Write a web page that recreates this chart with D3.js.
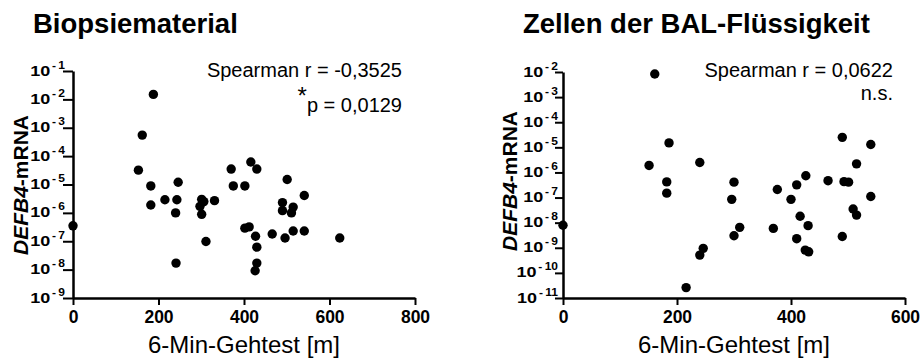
<!DOCTYPE html>
<html>
<head>
<meta charset="utf-8">
<script src="https://cdn.jsdelivr.net/npm/d3@7"></script>
<style>
    body { margin: 0; background: #fff; }
    svg { font-family: "Liberation Sans", Arial, sans-serif; }
</style>
</head>
<body>
<svg id="grafico" width="923" height="360"></svg>
<script>
//datos
var titulos = ["Biopsiematerial", "Zellen der BAL-Flüssigkeit"];
var textoEjeX = "6-Min-Gehtest [m]";

//panel izquierdo: biopsias
var biopsieGehtest = [0, 188, 162, 153, 182, 246, 182, 215, 243, 240, 301, 306, 297, 301, 331, 311, 241,
    370, 416, 430, 375, 402, 402, 412, 427, 430, 430, 426, 501, 541, 490, 490, 515, 511, 466, 496, 515, 541, 624];
var biopsieMrna = [3.5e-7, 1.5e-2, 5.5e-4, 3.2e-5, 8.9e-6, 1.2e-5, 1.9e-6, 2.9e-6, 2.9e-6, 1.0e-6, 3.0e-6, 2.5e-6, 1.7e-6, 8.9e-7, 2.7e-6, 9.8e-8, 1.7e-8,
    3.5e-5, 6.2e-5, 3.5e-5, 8.9e-6, 8.9e-6, 2.9e-7, 3.2e-7, 1.5e-7, 6.2e-8, 1.7e-8, 9.1e-9, 1.5e-5, 4.1e-6, 2.3e-6, 1.2e-6, 1.6e-6, 1.0e-6, 1.8e-7, 1.3e-7, 2.3e-7, 2.3e-7, 1.3e-7];
var biopsieTicksX = [0, 200, 400, 600, 800];
var biopsieExponentes = [-1, -2, -3, -4, -5, -6, -7, -8, -9];
var biopsieStats = ["Spearman r = -0,3525", "p = 0,0129"];

//panel derecho: celulas del BAL
var balGehtest = [0, 161, 186, 151, 182, 182, 216, 240, 246, 240, 300, 296, 310, 300, 369, 376, 400,
    410, 426, 416, 430, 410, 425, 431, 465, 493, 501, 490, 540, 515, 540, 509, 515, 490];
var balMrna = [7.9e-9, 8.3e-3, 1.5e-5, 1.9e-6, 4.2e-7, 1.5e-7, 2.6e-11, 2.5e-6, 9.5e-10, 5.1e-10, 4.1e-7, 8.5e-8, 6.5e-9, 3.0e-9, 5.9e-9, 2.1e-7, 8.5e-8,
    3.2e-7, 7.4e-7, 1.8e-8, 7.6e-9, 2.3e-9, 8.1e-10, 6.9e-10, 4.7e-7, 4.3e-7, 4.1e-7, 2.5e-5, 1.3e-5, 2.2e-6, 1.1e-7, 3.5e-8, 2.0e-8, 2.8e-9];
var balTicksX = [0, 200, 400, 600];
var balExponentes = [-2, -3, -4, -5, -6, -7, -8, -9, -10, -11];
var balStats = ["Spearman r = 0,0622", "n.s."];

var contenedor = d3.select("#grafico");

function dibujarPanel(p) {
    var escalaX = d3.scaleLinear().domain([0, d3.max(p.ticksX)]).range([p.left, p.right]);
    var escalaY = d3.scaleLog()
        .domain([Math.pow(10, d3.min(p.exponentes)), Math.pow(10, d3.max(p.exponentes))])
        .range([p.bottom, p.top]);

    //titulo del panel
    contenedor.append("text")
        .attr("x", p.tituloX).attr("y", 33)
        .attr("font-size", 27.5).attr("font-weight", "bold")
        .text(p.titulo);

    //eje X
    var gx = contenedor.append("g")
        .attr("transform", "translate(0," + p.bottom + ")")
        .call(d3.axisBottom(escalaX).tickValues(p.ticksX).tickSize(7).tickSizeOuter(0).tickPadding(6))
        .attr("font-family", null).attr("font-size", null);
    gx.select(".domain").attr("stroke-width", 2.5).attr("stroke", "#000");
    gx.selectAll(".tick line").attr("stroke-width", 2).attr("stroke", "#000");
    gx.selectAll(".tick text").attr("font-size", 17.5).attr("font-weight", "bold").attr("fill", "#000");

    //eje Y logaritmico, las etiquetas 10^n se escriben a mano (algo estiradas a lo ancho como en el original)
    var gy = contenedor.append("g")
        .attr("transform", "translate(" + p.left + ",0)")
        .call(d3.axisLeft(escalaY)
            .tickValues(p.exponentes.map(function (e) { return Math.pow(10, e); }))
            .tickFormat("").tickSize(p.largoTick).tickSizeOuter(0))
        .attr("font-family", null).attr("font-size", null);
    gy.select(".domain").attr("stroke-width", 2.5).attr("stroke", "#000");
    gy.selectAll(".tick line").attr("stroke-width", 2).attr("stroke", "#000");

    var etiqueta = gy.selectAll(".tick").append("text")
        .attr("transform", "translate(" + (-p.desplazamiento) + ",4) scale(1.2,1)")
        .attr("text-anchor", "end").attr("font-weight", "bold").attr("fill", "#000");
    etiqueta.append("tspan").attr("font-size", 15).text("10");
    etiqueta.append("tspan").attr("font-size", 10).attr("dy", -7).attr("dx", 1.5).text("-");
    etiqueta.append("tspan").attr("font-size", 10).attr("dx", 2)
        .text(function (d) { return Math.round(-Math.log10(d)); });

    //titulo eje Y
    var tituloY = contenedor.append("text")
        .attr("transform", "translate(" + p.tituloYX + "," + p.tituloYY + ") rotate(-90)")
        .attr("text-anchor", "middle").attr("font-size", 21).attr("font-weight", "bold");
    tituloY.append("tspan").attr("font-style", "italic").text("DEFB4");
    tituloY.append("tspan").text("-mRNA");

    //titulo eje X
    contenedor.append("text")
        .attr("x", (p.left + p.right) / 2).attr("y", 353)
        .attr("text-anchor", "middle").attr("font-size", 24)
        .text(textoEjeX);

    //puntos
    contenedor.selectAll(".punto-" + p.nombre)
        .data(p.xs)
        .enter()
        .append("circle")
        .attr("class", "punto-" + p.nombre)
        .attr("r", 4.7)
        .attr("cx", function (d) { return escalaX(d); })
        .attr("cy", function (d, i) { return escalaY(p.ys[i]); })
        .attr("fill", "#000");

    //estadistica de Spearman
    contenedor.append("text")
        .attr("x", p.statsX).attr("y", 77)
        .attr("text-anchor", "end").attr("font-size", 20)
        .text(p.stats[0]);
    var linea2 = contenedor.append("text")
        .attr("x", p.statsX).attr("y", p.stats2Y)
        .attr("text-anchor", "end").attr("font-size", 20);
    if (p.asterisco) {
        linea2.append("tspan").attr("font-size", 24).attr("dy", -8).text("*");
        linea2.append("tspan").attr("dy", 8).text(p.stats[1]);
    } else {
        linea2.text(p.stats[1]);
    }
}

dibujarPanel({
    nombre: "biopsie", titulo: titulos[0], tituloX: 33,
    xs: biopsieGehtest, ys: biopsieMrna, ticksX: biopsieTicksX, exponentes: biopsieExponentes,
    left: 73, right: 415, top: 71, bottom: 298, desplazamiento: 8, largoTick: 10,
    tituloYX: 28, tituloYY: 185,
    stats: biopsieStats, statsX: 402, stats2Y: 112, asterisco: true
});

dibujarPanel({
    nombre: "bal", titulo: titulos[1], tituloX: 523,
    xs: balGehtest, ys: balMrna, ticksX: balTicksX, exponentes: balExponentes,
    left: 563, right: 905, top: 72, bottom: 298, desplazamiento: 5, largoTick: 8,
    tituloYX: 517, tituloYY: 181,
    stats: balStats, statsX: 893, stats2Y: 100, asterisco: false
});
</script>
</body>
</html>
